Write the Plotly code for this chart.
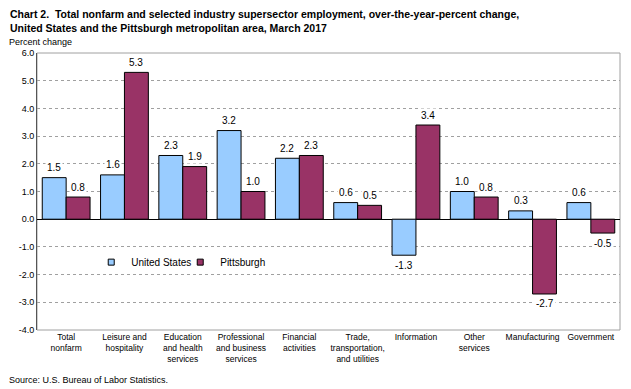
import plotly.graph_objects as go

categories = ["Total<br>nonfarm", "Leisure and<br>hospitality", "Education<br>and health<br>services",
              "Professional<br>and business<br>services", "Financial<br>activities",
              "Trade,<br>transportation,<br>and utilities", "Information", "Other<br>services",
              "Manufacturing", "Government"]
us = [1.5, 1.6, 2.3, 3.2, 2.2, 0.6, -1.3, 1.0, 0.3, 0.6]
pitt = [0.8, 5.3, 1.9, 1.0, 2.3, 0.5, 3.4, 0.8, -2.7, -0.5]
yticks = [-4, -3, -2, -1, 0, 1, 2, 3, 4, 5, 6]
series_names = ["United States", "Pittsburgh"]
series_colors = ["#99CCFF", "#993366"]

FONT = "Liberation Sans, Arial, sans-serif"
xs = list(range(len(categories)))
bw = 0.41

# page body has an 8px default margin: the figure is sized/offset to compensate
L, T, R, B = 29, 45, 11, 59
PW = 623 - L - R
PH = 381 - T - B

fig = go.Figure()
for vals, name, col, off in ((us, series_names[0], series_colors[0], -bw),
                             (pitt, series_names[1], series_colors[1], 0)):
    fig.add_trace(go.Bar(x=xs, y=vals, name=name, width=bw, offset=off, showlegend=False,
                         marker=dict(color=col, line=dict(color="#000000", width=1))))
for name, col in zip(series_names, series_colors):
    fig.add_trace(go.Scatter(x=[None], y=[None], mode="markers", name=name,
                             marker=dict(symbol="square", size=6, color=col,
                                         line=dict(color="#000000", width=1))))

anns = []
for i, (a, b) in enumerate(zip(us, pitt)):
    for val, dx in ((a, -bw / 2), (b, bw / 2)):
        anns.append(dict(x=i + dx, y=val, xref="x", yref="y", text=f"{val:.1f}",
                         showarrow=False, yshift=10 if val >= 0 else -10,
                         bgcolor="white", borderpad=1,
                         font=dict(size=10, color="black", family=FONT)))

fig.update_layout(
    width=623, height=381,
    margin=dict(l=L, r=R, t=T, b=B),
    paper_bgcolor="white", plot_bgcolor="white",
    font=dict(family=FONT, size=10, color="black"),
    barmode="overlay",
    showlegend=True,
    legend=dict(orientation="h", x=0.093, y=0.245, xanchor="left", yanchor="middle",
                bgcolor="rgba(0,0,0,0)", font=dict(size=10), itemwidth=30,
                entrywidthmode="pixels", entrywidth=44),
    xaxis=dict(range=[-0.5, 9.5], tickmode="array", tickvals=xs, ticktext=categories,
               showgrid=False, zeroline=False, showline=False, ticks="",
               tickfont=dict(size=8.5), automargin=False),
    yaxis=dict(range=[-4, 6], tickmode="array", tickvals=yticks,
               ticktext=[f"{v:.1f}" for v in yticks], showgrid=True,
               gridcolor="#A0A0A0", griddash="dot", gridwidth=1,
               zeroline=True, zerolinecolor="#000000", zerolinewidth=1,
               showline=True, linecolor="#555555", linewidth=1, ticks="",
               tickfont=dict(size=9), automargin=False),
    annotations=anns + [
        dict(x=-L/PW, y=1 + T/PH, xref="paper", yref="paper", xanchor="left", yanchor="top",
             yshift=2, xshift=0,
             text="<b>Chart 2.  Total nonfarm and selected industry supersector employment, over-the-year-percent change,<br>United States and the Pittsburgh metropolitan area, March 2017</b>",
             showarrow=False, align="left", font=dict(size=10.5, family=FONT)),
        dict(x=-L/PW, y=1, xref="paper", yref="paper", xanchor="left", yanchor="bottom",
             xshift=-1, yshift=4, text="Percent change", showarrow=False,
             font=dict(size=9, family=FONT)),
        dict(x=-L/PW, y=-B/PH, xref="paper", yref="paper", xanchor="left", yanchor="bottom",
             xshift=-1, yshift=2, text="Source: U.S. Bureau of Labor Statistics.", showarrow=False,
             font=dict(size=9, family=FONT)),
    ],
    shapes=[dict(type="rect", xref="paper", yref="paper", x0=0, x1=1, y0=0, y1=1,
                 line=dict(color="#A0A0A0", width=1), layer="below")],
)

fig.write_html("out.html")
